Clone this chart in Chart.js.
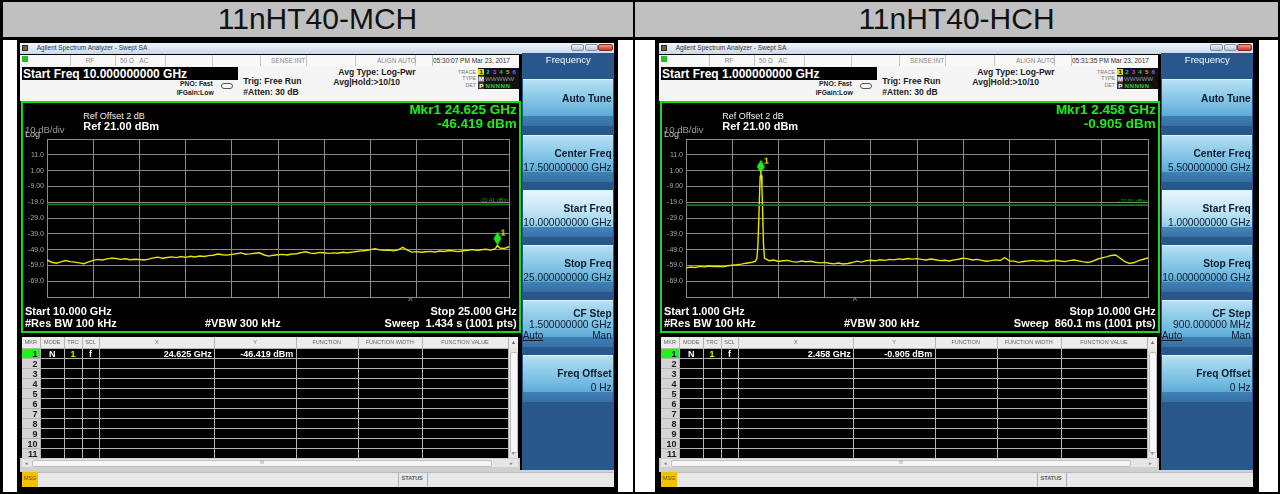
<!DOCTYPE html>
<html>
<head>
<meta charset="utf-8">
<title>11nHT40 spurious plots</title>
<script src="https://cdn.jsdelivr.net/npm/chart.js@4.4.1/dist/chart.umd.min.js"></script>
<style>
  html, body { margin: 0; padding: 0; background: #fff; }
  body { width: 1280px; height: 494px; position: relative; overflow: hidden;
         font-family: "Liberation Sans", Arial, sans-serif; }
  #page { position: absolute; left: 0; top: 0; width: 1280px; height: 494px; }
  .abs { position: absolute; white-space: pre; box-sizing: border-box; }
  canvas.abs { display: block; }
</style>
</head>
<body>
<div id="page"></div>
<script>
// Titles of the two table cells
const panelTitles = ['11nHT40-MCH', '11nHT40-HCH'];

// Shared amplitude axis (Ref 21 dBm, 10 dB/div)
const levelTicks = [-79, -69, -59, -49, -39, -29, -19, -9, 1, 11, 21];
const levelTickLabels = ['', '-69.0', '-59.0', '-49.0', '-39.0', '-29.0', '-19.0', '-9.00', '1.00', '11.0', ''];

// MCH sweep: 10 - 25 GHz
const mchGridGHz = [10, 11.5, 13, 14.5, 16, 17.5, 19, 20.5, 22, 23.5, 25];
const mchFreqGHz = [
  10, 10.15, 10.3, 10.45, 10.6, 10.75, 10.9, 11.05, 11.2, 11.35,
  11.5, 11.65, 11.8, 11.95, 12.1, 12.25, 12.4, 12.55, 12.7, 12.85,
  13, 13.15, 13.3, 13.45, 13.6, 13.75, 13.9, 14.05, 14.2, 14.35,
  14.5, 14.65, 14.8, 14.95, 15.1, 15.25, 15.4, 15.55, 15.7, 15.85,
  16, 16.15, 16.3, 16.45, 16.6, 16.75, 16.9, 17.05, 17.2, 17.35,
  17.5, 17.65, 17.8, 17.95, 18.1, 18.25, 18.4, 18.55, 18.7, 18.85,
  19, 19.15, 19.3, 19.45, 19.6, 19.75, 19.9, 20.05, 20.2, 20.35,
  20.5, 20.65, 20.8, 20.95, 21.1, 21.25, 21.4, 21.55, 21.7, 21.85,
  22, 22.15, 22.3, 22.45, 22.6, 22.75, 22.9, 23.05, 23.2, 23.35,
  23.5, 23.65, 23.8, 23.95, 24.1, 24.25, 24.4, 24.55, 24.625, 24.7, 24.85,
  25
];
const mchLevelDbm = [
  -55.5, -57.0, -57.6, -56.8, -55.9, -56.6, -56.9, -57.4, -57.9, -56.8,
  -55.8, -55.2, -55.6, -54.9, -54.4, -54.6, -55.2, -54.8, -55.4, -55.1,
  -55.3, -55.6, -55.0, -54.2, -53.8, -54.5, -54.0, -53.6, -54.1, -53.4,
  -53.9, -53.2, -53.7, -53.1, -53.4, -52.8, -52.6, -51.8, -52.3, -52.5,
  -52.0, -51.6, -51.1, -51.9, -51.7, -51.3, -51.0, -52.4, -53.1, -52.6,
  -52.3, -52.0, -52.4, -51.8, -51.6, -50.9, -50.4, -51.2, -51.5, -50.8,
  -51.0, -51.4, -51.1, -51.3, -50.7, -51.0, -50.6, -50.2, -49.8, -49.6,
  -49.0, -48.5, -49.2, -49.5, -49.3, -49.8, -49.1, -47.6, -49.3, -50.6,
  -50.3, -50.7, -50.4, -50.1, -50.5, -49.9, -50.2, -49.6, -49.9, -50.3,
  -49.7, -49.4, -49.0, -49.5, -49.1, -48.8, -49.2, -48.6, -46.4, -48.0, -48.3,
  -47.2
];
const mchMarkerGHz = [24.625];
const mchMarkerDbm = [-46.419];
const mchLimitDbm = -20.41;
const mchCaretGHz = 21.8;

// HCH sweep: 1 - 10 GHz
const hchGridGHz = [1, 1.9, 2.8, 3.7, 4.6, 5.5, 6.4, 7.3, 8.2, 9.1, 10];
const hchFreqGHz = [
  1, 1.09, 1.18, 1.27, 1.36, 1.45, 1.54, 1.63, 1.72, 1.81,
  1.9, 1.99, 2.08, 2.17, 2.26, 2.35, 2.38, 2.4, 2.42, 2.435, 2.445, 2.458, 2.47, 2.48, 2.495, 2.51, 2.53,
  2.62, 2.71, 2.8, 2.89, 2.98, 3.07, 3.16, 3.25, 3.34, 3.43,
  3.52, 3.61, 3.7, 3.79, 3.88, 3.97, 4.06, 4.15, 4.24, 4.33,
  4.42, 4.51, 4.6, 4.69, 4.78, 4.87, 4.96, 5.05, 5.14, 5.23,
  5.32, 5.41, 5.5, 5.59, 5.68, 5.77, 5.86, 5.95, 6.04, 6.13,
  6.22, 6.31, 6.4, 6.49, 6.58, 6.67, 6.76, 6.85, 6.94, 7.03,
  7.12, 7.21, 7.3, 7.39, 7.48, 7.57, 7.66, 7.75, 7.84, 7.93,
  8.02, 8.11, 8.2, 8.29, 8.38, 8.47, 8.56, 8.65, 8.74, 8.83,
  8.92, 9.01, 9.1, 9.19, 9.28, 9.37, 9.46, 9.55, 9.64, 9.73,
  9.82, 9.91, 10
];
const hchLevelDbm = [
  -60.6, -60.0, -60.3, -59.6, -59.9, -59.4, -59.7, -59.5, -59.9, -59.2,
  -58.9, -58.6, -58.2, -57.6, -57.2, -56.4, -54.5, -47.0, -28.0, -12.0, -2.5, -0.905, -2.0, -10.0, -27.0, -46.0, -54.5,
  -56.0, -55.6, -56.5, -56.1, -55.8, -56.6, -56.9, -56.2, -56.7, -56.4,
  -57.0, -57.4, -57.1, -57.6, -58.0, -57.5, -58.1, -57.8, -57.2, -56.3,
  -56.9, -56.0, -55.7, -56.1, -55.4, -55.8, -55.2, -55.5, -54.9, -55.3,
  -54.6, -55.0, -54.7, -55.2, -55.6, -55.0, -55.4, -56.0, -55.7, -56.2,
  -55.5, -55.1, -54.4, -54.9, -55.6, -55.2, -55.8, -56.4, -56.0, -55.5,
  -55.9, -54.0, -56.2, -56.3, -57.1, -56.5, -56.2, -55.8, -56.3, -55.9,
  -56.5, -56.1, -55.7, -56.2, -56.6, -56.0, -55.6, -56.1, -56.8, -57.2,
  -56.4, -55.1, -54.2, -53.6, -52.7, -52.4, -54.5, -56.6, -57.8, -57.2,
  -56.0, -55.1, -54.3
];
const hchMarkerGHz = [2.458];
const hchMarkerDbm = [-0.905];
const hchLimitDbm = -20.91;
const hchCaretGHz = 4.29;

// Screen texts of each analyzer capture
const mchScreen = {
  time: '05:30:07 PM Mar 23, 2017', startFreq: 'Start Freq 10.000000000 GHz',
  mkrFreq: 'Mkr1 24.625 GHz', mkrLevel: '-46.419 dBm', limitText: '-20.41 dBm',
  start: 'Start 10.000 GHz', stop: 'Stop 25.000 GHz', sweep: 'Sweep  1.434 s (1001 pts)',
  tblX: '24.625 GHz', tblY: '-46.419 dBm',
  keyCenter: '17.500000000 GHz', keyStart: '10.000000000 GHz', keyStop: '25.000000000 GHz', keyStep: '1.500000000 GHz'
};
const hchScreen = {
  time: '05:31:35 PM Mar 23, 2017', startFreq: 'Start Freq 1.000000000 GHz',
  mkrFreq: 'Mkr1 2.458 GHz', mkrLevel: '-0.905 dBm', limitText: '-20.91 dBm',
  start: 'Start 1.000 GHz', stop: 'Stop 10.000 GHz', sweep: 'Sweep  860.1 ms (1001 pts)',
  tblX: '2.458 GHz', tblY: '-0.905 dBm',
  keyCenter: '5.500000000 GHz', keyStart: '1.000000000 GHz', keyStop: '10.000000000 GHz', keyStep: '900.000000 MHz'
};

const page = document.getElementById('page');

function el(parent, x, y, w, h, css, str) {
  const d = document.createElement('div');
  d.className = 'abs';
  d.style.cssText = `left:${x}px;top:${y}px;` + (w != null ? `width:${w}px;` : '') +
    (h != null ? `height:${h}px;` : '') + (css || '');
  if (str != null) d.textContent = str;
  parent.appendChild(d);
  return d;
}

// y is the top of the capital letters
function txt(parent, x, y, size, str, css, align) {
  const font = `font-size:${size}px;line-height:${size}px;`;
  const top = y - 0.13 * size;
  if (align === 'right') return el(parent, x - 300, top, 300, null, font + 'text-align:right;' + (css || ''), str);
  if (align === 'center') return el(parent, x - 150, top, 300, null, font + 'text-align:center;' + (css || ''), str);
  return el(parent, x, top, null, null, font + (css || ''), str);
}

// diamond marker with its "1" label, tip sits on the data point
function makeMarkerImage() {
  const c = document.createElement('canvas');
  c.width = 20; c.height = 36;
  const g = c.getContext('2d');
  g.fillStyle = '#22e622';
  g.beginPath();
  g.moveTo(10, 4); g.lineTo(14, 11); g.lineTo(10, 18); g.lineTo(6, 11);
  g.closePath(); g.fill();
  g.fillStyle = '#e6e600';
  g.font = 'bold 9px "Liberation Sans"';
  g.fillText('1', 13, 8);
  return c;
}
const markerImage = makeMarkerImage();

const screenMarks = {
  id: 'screenMarks',
  afterDatasetsDraw(chart, args, opts) {
    const { ctx, chartArea, scales } = chart;
    ctx.save();
    ctx.font = '5.5px "Liberation Sans"';
    ctx.fillStyle = '#1f9f1f';
    ctx.textAlign = 'right';
    ctx.fillText(opts.limitText, chartArea.right - 1, scales.y.getPixelForValue(opts.limit) - 2);
    ctx.fillStyle = '#22d022';
    ctx.font = 'bold 8px "Liberation Sans"';
    ctx.textAlign = 'center';
    ctx.textBaseline = 'top';
    ctx.fillText('^', scales.x.getPixelForValue(opts.caret), chartArea.bottom);
    ctx.restore();
  }
};

function makeChart(canvas, grid, freq, level, mkrX, mkrY, limit, caret, limitText) {
  const gridColor = '#8a8a8a';
  return new Chart(canvas, {
    type: 'line',
    data: {
      datasets: [
        {
          data: [{ x: grid[0], y: limit }, { x: grid[grid.length - 1], y: limit }],
          borderColor: '#0e7e12', borderWidth: 1.8, pointRadius: 0
        },
        {
          data: freq.map((f, i) => ({ x: f, y: level[i] })),
          borderColor: '#e6e600', borderWidth: 1.4, pointRadius: 0
        },
        {
          data: mkrX.map((f, i) => ({ x: f, y: mkrY[i] })),
          pointStyle: markerImage, pointRadius: 10, showLine: false
        }
      ]
    },
    options: {
      responsive: false,
      animation: false,
      devicePixelRatio: 1,
      layout: { padding: { left: 0, right: 3, top: 5, bottom: 6 } },
      plugins: {
        legend: { display: false },
        tooltip: { enabled: false },
        screenMarks: { limit: limit, limitText: limitText, caret: caret }
      },
      scales: {
        x: {
          type: 'linear',
          min: grid[0],
          max: grid[grid.length - 1],
          afterBuildTicks: s => { s.ticks = grid.map(v => ({ value: v })); },
          afterFit: s => { s.height = 0; },
          ticks: { display: false },
          grid: { color: gridColor, drawTicks: false },
          border: { color: gridColor }
        },
        y: {
          min: -79,
          max: 21,
          afterBuildTicks: s => { s.ticks = levelTicks.map(v => ({ value: v })); },
          afterFit: s => { s.width = 26; },
          ticks: {
            color: '#a8a8a8',
            padding: 3,
            autoSkip: false,
            font: { family: 'Liberation Sans', size: 7 },
            callback: v => levelTickLabels[levelTicks.indexOf(v)]
          },
          grid: { color: gridColor, drawTicks: false },
          border: { color: gridColor }
        }
      }
    },
    plugins: [screenMarks]
  });
}

function buildScreen(ox, p, chartArgs) {
  const r = el(page, ox, 42, 594, 450, 'background:#000;overflow:hidden;');

  // window title bar
  el(r, 0, 1, 594, 11, 'background:linear-gradient(#f0f5fb,#cbd9ea);');
  el(r, 2, 3, 6, 6, 'background:#6e6540;border:1px solid #2e2a18;');
  txt(r, 16.7, 3.7, 6.5, 'Agilent Spectrum Analyzer - Swept SA', 'color:#2a3340;');
  const wb = 'border:1px solid #7f8fa5;border-radius:2px;background:linear-gradient(#eef3f9,#b5c5da);';
  el(r, 550.7, 1.5, 13.5, 7, wb);
  el(r, 564.5, 1.5, 13.5, 7, wb);
  el(r, 578.3, 1.5, 15, 7, 'border:1px solid #8c2b1c;border-radius:2px;background:linear-gradient(#ec9c8a,#c23c26);');

  // status row
  el(r, 0, 12.5, 499, 11.5, 'background:#f8f8f8;');
  [50, 95, 145, 192, 240, 286, 335, 395, 412].forEach(x => el(r, x, 12.5, 1, 11.5, 'background:#c6c6c6;'));
  el(r, 1.5, 14, 6, 5.5, 'background:#25c025;');
  txt(r, 70, 17, 6.5, 'RF', 'color:#8a8a8a;', 'center');
  txt(r, 100, 17, 6.5, '50 Ω   AC', 'color:#8a8a8a;');
  txt(r, 251, 17, 6.5, 'SENSE:INT', 'color:#8a8a8a;');
  txt(r, 357, 17, 6.5, 'ALIGN AUTO', 'color:#8a8a8a;');
  txt(r, 413, 17, 6.5, p.time, 'color:#333;');

  // settings area
  el(r, 0, 24, 499, 34.7, 'background:#f5f5f5;');
  el(r, 1.7, 24.5, 216.3, 13.5, 'background:#000;');
  txt(r, 3, 27.3, 12, p.startFreq, 'color:#fff;font-weight:bold;');
  const dark = 'color:#1c1c1c;font-weight:bold;';
  txt(r, 160, 40.3, 6.8, 'PNO: Fast', dark);
  el(r, 200.5, 40.5, 12, 6.5, 'border:1px solid #555;border-radius:3px;');
  txt(r, 156.7, 48.7, 6.8, 'IFGain:Low', dark);
  txt(r, 223.3, 36.3, 8.6, 'Trig: Free Run', dark);
  txt(r, 223.3, 47, 8.6, '#Atten: 30 dB', dark);
  txt(r, 318.3, 27, 8.6, 'Avg Type: Log-Pwr', dark);
  txt(r, 313.3, 37, 8.6, 'Avg|Hold:>10/10', dark);

  // trace / type / det block
  el(r, 457.5, 25.5, 41.5, 21.5, 'background:#111;');
  txt(r, 456, 28.3, 5.3, 'TRACE', 'color:#777;', 'right');
  txt(r, 456, 35, 5.3, 'TYPE', 'color:#777;', 'right');
  txt(r, 456, 41.6, 5.3, 'DET', 'color:#777;', 'right');
  el(r, 458.3, 26.5, 6, 6.5, 'background:#e0e000;');
  const traceCols = ['#000', '#1fc0c0', '#c040c8', '#2ec82e', '#e0a000', '#6a6aff'];
  traceCols.forEach((c, k) => txt(r, 461.3 + k * 6.6, 27.8, 6.2, String(k + 1), `color:${c};font-weight:bold;`, 'center'));
  el(r, 458.3, 33.5, 6, 6.5, 'background:#6a6a6a;');
  txt(r, 461.3, 34.6, 6.2, 'M', 'color:#fff;font-weight:bold;', 'center');
  txt(r, 465, 34.6, 6.2, 'WWWWW', 'color:#9a9a9a;');
  el(r, 458.3, 40.3, 6, 6.5, 'background:#333;');
  txt(r, 461.3, 41.4, 6.2, 'P', 'color:#fff;font-weight:bold;', 'center');
  txt(r, 465.5, 41.4, 6.2, 'N N N N N', 'color:#2ed02e;font-weight:bold;letter-spacing:-0.6px;');

  // display
  el(r, 1, 58.7, 499.7, 232.6, 'border:2px solid #18d818;background:#000;');
  const cv = document.createElement('canvas');
  cv.className = 'abs';
  cv.width = 499; cv.height = 180;
  cv.style.left = '1px'; cv.style.top = '86px';
  r.appendChild(cv);
  makeChart(cv, ...chartArgs, p.limitText);

  txt(r, 63.3, 70.7, 9, 'Ref Offset 2 dB', 'color:#f0f0f0;');
  txt(r, 63.3, 80.7, 11, 'Ref 21.00 dBm', 'color:#fff;font-weight:bold;');
  txt(r, 5, 84.3, 9.5, '10 dB/div', 'color:#9a9a9a;');
  txt(r, 5, 89.6, 9, 'Log', 'color:#c8c8c8;');
  const green = 'color:#22e622;font-weight:bold;';
  txt(r, 496.7, 62.3, 13.5, p.mkrFreq, green, 'right');
  txt(r, 496.7, 77, 13.5, p.mkrLevel, green, 'right');
  const white = 'color:#fff;font-weight:bold;';
  txt(r, 5, 265.3, 11, p.start, white);
  txt(r, 496.7, 265.3, 11, p.stop, white, 'right');
  txt(r, 5, 277.3, 11, '#Res BW 100 kHz', white);
  txt(r, 185, 277.3, 11, '#VBW 300 kHz', white);
  txt(r, 496.7, 277.3, 11, p.sweep, white, 'right');

  // marker table
  const cols = [1.7, 20, 44.3, 61.7, 79.3, 194.3, 275.7, 337.7, 401.7, 488.3, 498.3];
  const heads = ['MKR', 'MODE', 'TRC', 'SCL', 'X', 'Y', 'FUNCTION', 'FUNCTION WIDTH', 'FUNCTION VALUE', '▴'];
  el(r, 1.7, 295.3, 496.6, 11, 'background:#ececec;');
  el(r, 1.7, 306.3, 486.6, 110, 'background:#000;');
  el(r, 1.7, 306.3, 18.3, 110, 'background:#d4d4d4;');
  el(r, 1.7, 306.3, 18.3, 10, 'background:#22f022;');
  for (let k = 0; k <= 11; k++) el(r, 1.7, 306.3 + k * 10, 486.6, 1, 'background:#b4b4b4;');
  cols.slice(1, 10).forEach(x => el(r, x, 295.3, 1, 121, 'background:#b4b4b4;'));
  heads.forEach((h, k) => txt(r, (cols[k] + cols[k + 1]) / 2, 299, 5.5, h, 'color:#666;', 'center'));
  for (let k = 0; k < 11; k++) {
    txt(r, 17.5, 308.7 + k * 10, 9, String(k + 1), 'color:#1a1a1a;font-weight:bold;', 'right');
  }
  txt(r, 32.2, 308.7, 9, 'N', white, 'center');
  txt(r, 53, 308.7, 9, '1', 'color:#e6e600;font-weight:bold;', 'center');
  txt(r, 70.5, 308.7, 9, 'f', white, 'center');
  txt(r, 191.7, 308.7, 9, p.tblX, white, 'right');
  txt(r, 273.3, 308.7, 9, p.tblY, white, 'right');
  // scrollbars
  el(r, 488.8, 306.3, 9.5, 110, 'background:#e6e6e6;');
  el(r, 489.6, 310, 8, 101, 'background:#f7f7f7;border:1px solid #bdbdbd;border-radius:2px;');
  txt(r, 493.5, 410, 5, '▾', 'color:#777;', 'center');
  el(r, 0, 416.3, 500, 13.4, 'background:#cfcfcf;');
  el(r, 1.7, 416.8, 496.6, 8.5, 'background:#e6e6e6;');
  el(r, 12, 417.6, 460, 7, 'background:#f6f6f6;border:1px solid #bdbdbd;border-radius:2px;');
  txt(r, 242, 419.5, 4.5, 'III', 'color:#888;', 'center');
  txt(r, 6, 419.5, 5, '◂', 'color:#777;', 'center');
  txt(r, 491, 419.5, 5, '▸', 'color:#777;', 'center');

  // soft key menu
  el(r, 501.7, 10.7, 92.6, 417.3, 'background:#28578b;');
  txt(r, 548.3, 14, 9.5, 'Frequency', 'color:#fff;', 'center');
  const keyTops = [37.3, 93, 148, 203, 258, 313];
  const keys = [
    { t: 'Auto Tune', lines: [['t', 15.7]] },
    { t: 'Center Freq', v: p.keyCenter, lines: [['t', 15.3], ['v', 29.3]] },
    { t: 'Start Freq', v: p.keyStart, sel: true, lines: [['t', 15.7], ['v', 29.7]] },
    { t: 'Stop Freq', v: p.keyStop, lines: [['t', 15.7], ['v', 29.7]] },
    { t: 'CF Step', v: p.keyStep, am: true, lines: [['t', 10], ['v', 21.7]] },
    { t: 'Freq Offset', v: '0 Hz', lines: [['t', 15.7], ['v', 29.3]] }
  ];
  const keyBg = 'linear-gradient(#b8e0f3 0%,#91cdea 30%,#72b9df 60%,#5eaad6 78%,#3f7fb4 79%,#3870a6 100%)';
  const keySel = 'linear-gradient(#e6f5fc 0%,#cbe9f7 35%,#a6d7ef 65%,#8cc8e8 78%,#4585b9 79%,#3870a6 100%)';
  keys.forEach((k, i) => {
    const top = keyTops[i];
    el(r, 502.7, top, 90.6, 46.5, 'background:' + (k.sel ? keySel : keyBg) + ';border-top:1px solid #dff1fa;');
    k.lines.forEach(([kind, off]) => {
      if (kind === 't') txt(r, 591.7, top + off, 10.2, k.t, 'color:#0a1a2c;font-weight:bold;', 'right');
      else txt(r, 591.7, top + off, 10.2, k.v, 'color:#0a1a2c;', 'right');
    });
    if (k.am) {
      txt(r, 502.7, top + 32.7, 10, 'Auto', 'color:#0a1a2c;text-decoration:underline;');
      txt(r, 591.7, top + 32.7, 10, 'Man', 'color:#0a1a2c;', 'right');
    }
  });
  el(r, 500, 428, 94, 17, 'background:#d2d2d2;');

  // status bar
  el(r, 1.7, 429.7, 592, 15, 'background:#e8e8e8;border-top:1px solid #bcbcbc;');
  el(r, 1.7, 429.7, 16.6, 15, 'background:#f2c200;');
  txt(r, 10, 435, 5.5, 'MSG', 'color:#6a5000;', 'center');
  el(r, 377.7, 429.7, 1, 15, 'background:#b0b0b0;');
  el(r, 406.7, 429.7, 1, 15, 'background:#b0b0b0;');
  txt(r, 392.2, 435, 5.5, 'STATUS', 'color:#555;font-weight:bold;', 'center');
}

// page frame
el(page, 2, 2, 1276, 35, 'background:#c0c0c0;');
txt(page, 317.5, 8.3, 30, panelTitles[0], 'color:#111;', 'center');
txt(page, 956.5, 8.3, 30, panelTitles[1], 'color:#111;', 'center');
el(page, 0, 37, 1280, 2.5, 'background:#000;');
el(page, 633, 0, 2.3, 494, 'background:#000;');
el(page, 17, 39.5, 601, 454.5, 'background:#000;');
el(page, 655, 39.5, 604, 454.5, 'background:#000;');

buildScreen(20, mchScreen, [mchGridGHz, mchFreqGHz, mchLevelDbm, mchMarkerGHz, mchMarkerDbm, mchLimitDbm, mchCaretGHz]);
buildScreen(659, hchScreen, [hchGridGHz, hchFreqGHz, hchLevelDbm, hchMarkerGHz, hchMarkerDbm, hchLimitDbm, hchCaretGHz]);

el(page, 0, 0, 1280, 494, 'border:2px solid #000;border-left-width:3px;');
</script>
</body>
</html>
